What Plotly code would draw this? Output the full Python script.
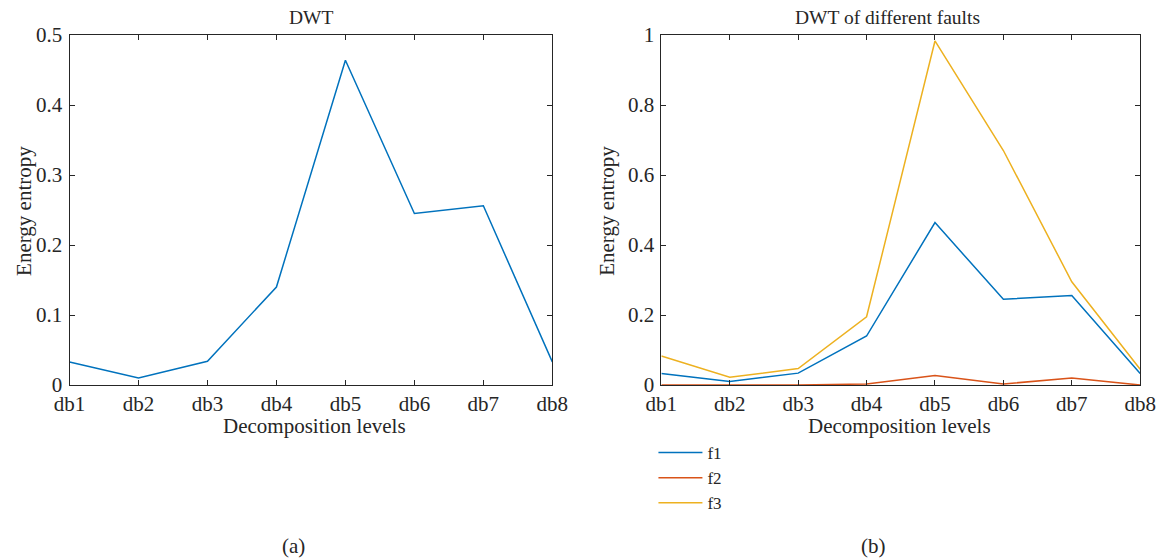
import plotly.graph_objects as go

levels = ["db1", "db2", "db3", "db4", "db5", "db6", "db7", "db8"]
f1 = [0.033, 0.010, 0.034, 0.140, 0.464, 0.245, 0.256, 0.033]
f2 = [0.000, 0.000, 0.000, 0.003, 0.027, 0.003, 0.020, 0.000]
f3 = [0.083, 0.022, 0.047, 0.195, 0.983, 0.670, 0.295, 0.045]
yticks_a = [0, 0.1, 0.2, 0.3, 0.4, 0.5]
yticks_b = [0, 0.2, 0.4, 0.6, 0.8, 1]

W, H = 1164, 559
FONT = "Liberation Serif"
C1, C2, C3 = "#0072BD", "#D95319", "#EDB120"
TXT = "#262626"
xs = list(range(1, len(levels) + 1))

# the captured page is slightly offset and scaled relative to the figure;
# these map target picture pixels back to figure paper fractions
SX, OX = 0.981, 10.0
SY, OY = 0.957, 11.0

def px(x):
    return ((x - OX) / SX) / W

def py(y):
    return 1 - ((y - OY) / SY) / H

fig = go.Figure()
fig.add_trace(go.Scatter(x=xs, y=f1, mode="lines", line=dict(color=C1, width=1.5),
                         showlegend=False, xaxis="x", yaxis="y"))
fig.add_trace(go.Scatter(x=xs, y=f1, mode="lines", line=dict(color=C1, width=1.5),
                         name="f1", xaxis="x2", yaxis="y2"))
fig.add_trace(go.Scatter(x=xs, y=f2, mode="lines", line=dict(color=C2, width=1.5),
                         name="f2", xaxis="x2", yaxis="y2"))
fig.add_trace(go.Scatter(x=xs, y=f3, mode="lines", line=dict(color=C3, width=1.5),
                         name="f3", xaxis="x2", yaxis="y2"))

axcommon = dict(showline=True, linecolor=TXT, linewidth=1, mirror="ticks",
                ticks="inside", ticklen=5, tickcolor=TXT, showgrid=False,
                zeroline=False, tickfont=dict(family=FONT, size=21, color=TXT))

fig.update_layout(
    width=W, height=H, margin=dict(l=0, r=0, t=0, b=0),
    paper_bgcolor="white", plot_bgcolor="white",
    font=dict(family=FONT, color=TXT),
    xaxis=dict(domain=[px(64), px(551)], anchor="y", range=[1, 8], tickvals=xs,
               ticktext=levels, ticklabelstandoff=0, **axcommon),
    yaxis=dict(domain=[py(384), py(34)], anchor="x", range=[0, 0.5], tickvals=yticks_a,
               ticktext=[f"{v:g}" for v in yticks_a], ticklabelstandoff=2, **axcommon),
    xaxis2=dict(domain=[px(661), px(1144)], anchor="y2", range=[1, 8], tickvals=xs,
                ticktext=levels, ticklabelstandoff=0, **axcommon),
    yaxis2=dict(domain=[py(384), py(34)], anchor="x2", range=[0, 1], tickvals=yticks_b,
                ticktext=[f"{v:g}" for v in yticks_b], ticklabelstandoff=2, **axcommon),
    legend=dict(x=px(653), y=py(434), xanchor="left", yanchor="top",
                font=dict(family=FONT, size=17, color=TXT), itemwidth=44,
                bgcolor="rgba(0,0,0,0)", tracegroupgap=0),
)

ann = [
    dict(text="DWT", x=px(308), y=py(16), size=19.5),
    dict(text="DWT of different faults", x=px(889), y=py(16), size=19.5),
    dict(text="Decomposition levels", x=px(311), y=py(425), size=21),
    dict(text="Decomposition levels", x=px(901), y=py(425), size=21),
    dict(text="(a)", x=px(290), y=py(545), size=21),
    dict(text="(b)", x=px(875), y=py(545), size=21),
]
for a in ann:
    fig.add_annotation(text=a["text"], x=a["x"], y=a["y"], xref="paper", yref="paper",
                       showarrow=False, xanchor="center", yanchor="middle",
                       font=dict(family=FONT, size=a["size"], color=TXT))
for xx in (px(18), px(606)):
    fig.add_annotation(text="Energy entropy", x=xx, y=py(210), xref="paper", yref="paper",
                       showarrow=False, textangle=-90, xanchor="center", yanchor="middle",
                       font=dict(family=FONT, size=21, color=TXT))

fig.write_html("out.html")
